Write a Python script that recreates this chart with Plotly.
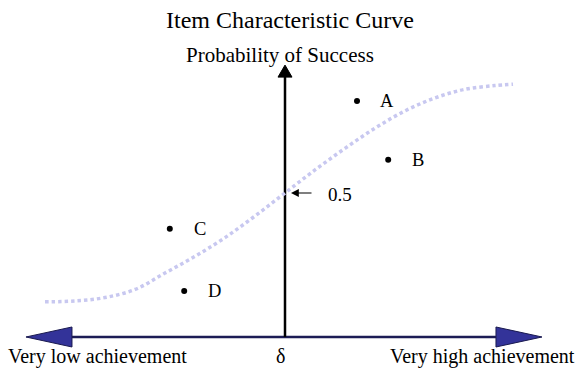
import plotly.graph_objects as go

# ---------------- data ----------------
theta_curve = [-4.0, -3.5, -3.0, -2.5, -2.0, -1.5, -1.0, -0.5, 0.0, 0.5, 1.0, 1.5, 2.0, 2.5, 3.0, 3.5, 3.8]
p_curve = [0.122, 0.125, 0.137, 0.165, 0.222, 0.28, 0.345, 0.42, 0.5, 0.58, 0.655, 0.725, 0.785, 0.83, 0.86, 0.873, 0.878]

item_names = ["A", "B", "C", "D"]
item_theta = [1.2, 1.72, -1.92, -1.68]
item_p = [0.819, 0.615, 0.376, 0.16]

delta = 0.0
p_at_delta = 0.5
p_label = "0.5"

title_text = "Item Characteristic Curve"
y_title = "Probability of Success"
left_label = "Very low achievement"
right_label = "Very high achievement"
delta_label = "δ"

# ---------------- layout constants ----------------
W, H = 576, 370
X_RANGE = [-4.75, 4.85]
Y_RANGE = [-0.1146, 1.1701]
SX = W / (X_RANGE[1] - X_RANGE[0])   # px per theta unit
SY = H / (Y_RANGE[1] - Y_RANGE[0])   # px per probability unit
FONT = "Liberation Serif, Times New Roman, serif"

H_AXIS_LEFT = -4.317
H_AXIS_RIGHT = 4.283
H_HEAD_LEN = 46 / SX
H_HEAD_HALF = 10 / SY
V_AXIS_TOP = 0.944
V_HEAD_LEN = 12 / SY
V_HEAD_HALF = 7 / SX

fig = go.Figure()

# curve
fig.add_trace(go.Scatter(
    x=theta_curve, y=p_curve, mode="lines", line_shape="spline",
    line=dict(color="#c8c8f0", width=3.5, dash="3.5px,3px"),
    hoverinfo="skip", showlegend=False))

# items
fig.add_trace(go.Scatter(
    x=item_theta, y=item_p, mode="markers",
    marker=dict(color="black", size=6), showlegend=False, hoverinfo="skip"))

shapes = []
# horizontal axis line
shapes.append(dict(type="line", xref="x", yref="y", layer="below",
                   x0=H_AXIS_LEFT + H_HEAD_LEN, x1=H_AXIS_RIGHT - H_HEAD_LEN, y0=0, y1=0,
                   line=dict(color="#1c1c55", width=2.5)))
# arrowheads
lx, rx = H_AXIS_LEFT, H_AXIS_RIGHT
shapes.append(dict(type="path", xref="x", yref="y", layer="below",
                   path=f"M {lx} 0 L {lx + H_HEAD_LEN} {H_HEAD_HALF} L {lx + H_HEAD_LEN} {-H_HEAD_HALF} Z",
                   fillcolor="#333399", line=dict(color="#1a1a50", width=1)))
shapes.append(dict(type="path", xref="x", yref="y", layer="below",
                   path=f"M {rx} 0 L {rx - H_HEAD_LEN} {H_HEAD_HALF} L {rx - H_HEAD_LEN} {-H_HEAD_HALF} Z",
                   fillcolor="#333399", line=dict(color="#1a1a50", width=1)))
# vertical axis
shapes.append(dict(type="line", xref="x", yref="y", layer="below",
                   x0=delta, x1=delta, y0=0, y1=V_AXIS_TOP - V_HEAD_LEN,
                   line=dict(color="black", width=2.5)))
shapes.append(dict(type="path", xref="x", yref="y", layer="below",
                   path=f"M {delta} {V_AXIS_TOP} L {delta - V_HEAD_HALF} {V_AXIS_TOP - V_HEAD_LEN} L {delta + V_HEAD_HALF} {V_AXIS_TOP - V_HEAD_LEN} Z",
                   fillcolor="black", line=dict(color="black", width=1)))

annotations = []
for n, t, p in zip(item_names, item_theta, item_p):
    annotations.append(dict(x=t, y=p, xref="x", yref="y", text=n, showarrow=False,
                            xanchor="center", yanchor="middle",
                            xshift=30, font=dict(family=FONT, size=18.5, color="black")))

# 0.5 arrow and label
annotations.append(dict(x=delta, y=p_at_delta, xref="x", yref="y", text="", showarrow=True,
                        ax=28, ay=0, axref="pixel", ayref="pixel", standoff=6,
                        arrowhead=2, arrowsize=1.3, arrowwidth=1.2, arrowcolor="black"))
annotations.append(dict(x=delta, y=p_at_delta, xref="x", yref="y", text=p_label, showarrow=False,
                        xanchor="center", yanchor="middle",
                        xshift=55, yshift=-2, font=dict(family=FONT, size=19, color="black")))


def paper(px, py):
    return px / W, 1 - py / H


def add_text(px, py, text, size):
    tx, ty = paper(px, py)
    annotations.append(dict(x=tx, y=ty, xref="paper", yref="paper", text=text, showarrow=False,
                            xanchor="center", yanchor="middle",
                            font=dict(family=FONT, size=size, color="black")))


add_text(290, 20, title_text, 24)
add_text(280, 55, y_title, 21)
add_text(97, 356, left_label, 20)
add_text(482, 356, right_label, 20)
add_text(280, 356, delta_label, 20)

fig.update_layout(
    width=W, height=H, autosize=False,
    margin=dict(l=0, r=0, t=0, b=0),
    paper_bgcolor="white", plot_bgcolor="white",
    xaxis=dict(range=X_RANGE, visible=False, fixedrange=True),
    yaxis=dict(range=Y_RANGE, visible=False, fixedrange=True),
    shapes=shapes, annotations=annotations, showlegend=False,
)

fig.write_html("out.html", config={"displayModeBar": False},
               post_script="document.body.style.margin='0';document.body.style.overflow='hidden';")
